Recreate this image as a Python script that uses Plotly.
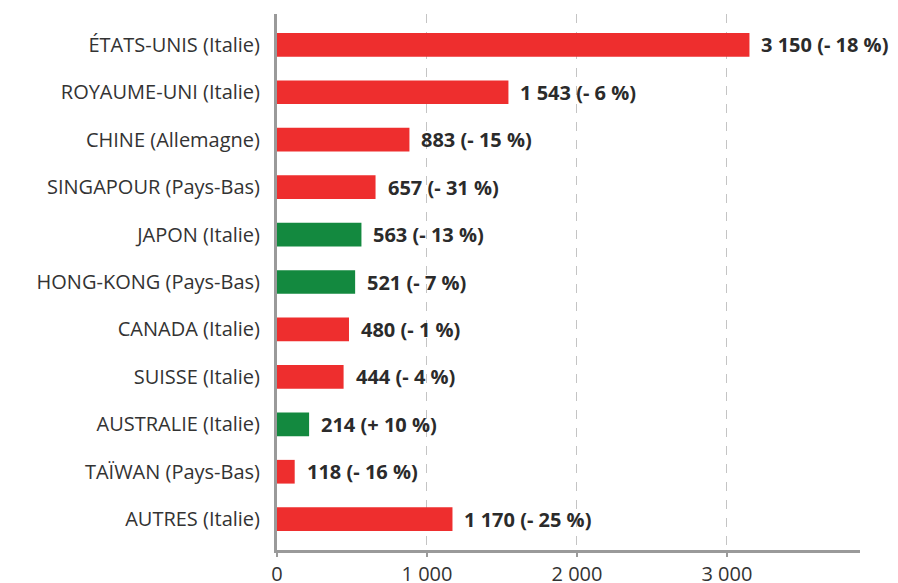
import plotly.graph_objects as go

categories = [
    "ÉTATS-UNIS (Italie)", "ROYAUME-UNI (Italie)", "CHINE (Allemagne)",
    "SINGAPOUR (Pays-Bas)", "JAPON (Italie)", "HONG-KONG (Pays-Bas)",
    "CANADA (Italie)", "SUISSE (Italie)", "AUSTRALIE (Italie)",
    "TAÏWAN (Pays-Bas)", "AUTRES (Italie)",
]
values = [3150, 1543, 883, 657, 563, 521, 480, 444, 214, 118, 1170]
changes = ["- 18 %", "- 6 %", "- 15 %", "- 31 %", "- 13 %", "- 7 %",
           "- 1 %", "- 4 %", "+ 10 %", "- 16 %", "- 25 %"]
is_green = [False, False, False, False, True, True, False, False, True, False, False]
tick_vals = [0, 1000, 2000, 3000]
tick_text = ["0", "1 000", "2 000", "3 000"]

RED = "#EE2E2E"
GREEN = "#13893F"
FONT = "Open Sans"

def fmt(v):
    return f"{v:,}".replace(",", " ")

colors = [GREEN if g else RED for g in is_green]

fig = go.Figure()
fig.add_trace(go.Bar(
    x=values, y=categories, orientation="h",
    marker=dict(color=colors, line=dict(width=0)),
    width=0.5, hoverinfo="skip",
))

for c, v, ch in zip(categories, values, changes):
    fig.add_annotation(
        x=v, y=c, text=f"<b>{fmt(v)} ({ch})</b>", showarrow=False,
        xanchor="left", yanchor="middle", xshift=10,
        font=dict(family=FONT, size=20, color="#2b2b2b"),
    )

fig.update_layout(
    width=898, height=583,
    margin=dict(l=269, r=46, t=6, b=41),
    paper_bgcolor="white", plot_bgcolor="white",
    showlegend=False,
    font=dict(family=FONT, size=20, color="#333333"),
    xaxis=dict(
        range=[0, 3887], tickvals=tick_vals, ticktext=tick_text,
        showgrid=True, gridcolor="#c4c4c4", griddash="dash", gridwidth=1,
        showline=True, linecolor="#9a9a9a", linewidth=3,
        ticks="outside", ticklen=4, tickcolor="#9a9a9a", tickwidth=2,
        tickfont=dict(size=20, color="#333333"), zeroline=False,
        automargin=False, fixedrange=True,
    ),
    yaxis=dict(
        range=[10.65, -0.65], type="category",
        categoryorder="array", categoryarray=categories,
        showline=True, linecolor="#9a9a9a", linewidth=3,
        showgrid=False, ticks="", ticklabelstandoff=10,
        tickfont=dict(size=20, color="#333333"), zeroline=False,
        automargin=False,
    ),
)

fig.write_html("out.html")
